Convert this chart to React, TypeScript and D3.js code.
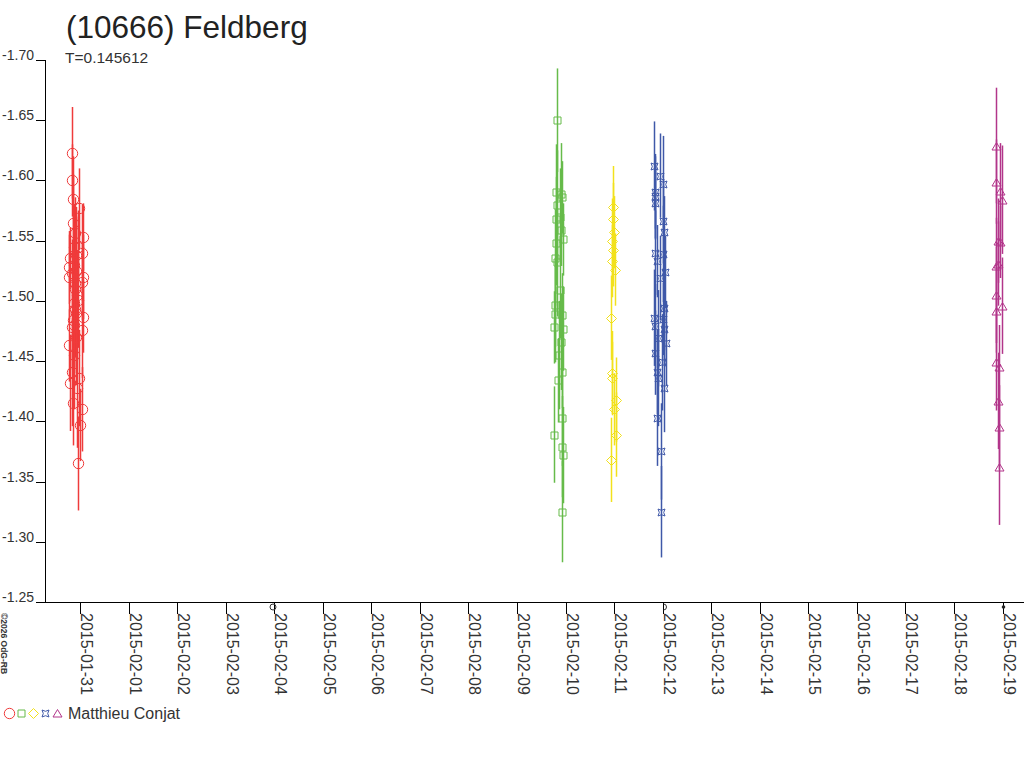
import React, { useEffect, useRef } from 'react';
import * as d3 from 'd3';

// [MJD, reduced magnitude, error]
type Obs = [number, number, number];

const TITLE = '(10666) Feldberg';
const PERIOD_LABEL = 'T=0.145612';
const OBSERVER = 'Matthieu Conjat';
const CREDIT = '©2026 OdG-RB';

const session1: Obs[] = [
  [57052.841, -1.623, 0.038], [57052.829, -1.600, 0.030], [57052.862, -1.585, 0.035],
  [57052.986, -1.577, 0.033], [57052.897, -1.556, 0.030], [57053.056, -1.553, 0.028],
  [57052.794, -1.536, 0.025], [57052.780, -1.528, 0.030], [57052.829, -1.523, 0.028],
  [57053.068, -1.520, 0.035], [57053.035, -1.516, 0.032], [57052.965, -1.501, 0.040],
  [57053.068, -1.487, 0.030], [57052.862, -1.484, 0.045], [57052.829, -1.478, 0.035],
  [57053.035, -1.476, 0.040], [57052.780, -1.463, 0.030], [57052.829, -1.441, 0.045],
  [57052.794, -1.432, 0.040], [57052.986, -1.436, 0.040], [57052.932, -1.428, 0.050],
  [57052.862, -1.415, 0.035], [57053.035, -1.410, 0.035], [57053.000, -1.397, 0.030],
  [57052.953, -1.365, 0.039], [57052.880, -1.545, 0.035], [57052.910, -1.538, 0.040],
  [57052.870, -1.530, 0.030], [57052.920, -1.525, 0.045], [57052.900, -1.515, 0.050],
  [57052.890, -1.510, 0.040], [57052.930, -1.505, 0.035], [57052.875, -1.498, 0.045],
  [57052.905, -1.493, 0.040], [57052.925, -1.490, 0.050], [57052.885, -1.480, 0.035],
  [57052.915, -1.470, 0.040], [57052.855, -1.565, 0.040], [57052.950, -1.545, 0.030],
  [57052.870, -1.455, 0.045], [57052.775, -1.520, 0.035], [57053.050, -1.540, 0.040],
];

const session2: Obs[] = [
  [57062.819, -1.650, 0.043], [57062.804, -1.590, 0.040], [57062.901, -1.589, 0.042],
  [57062.922, -1.586, 0.030], [57062.819, -1.580, 0.045], [57062.804, -1.568, 0.035],
  [57062.887, -1.570, 0.040], [57062.901, -1.559, 0.030], [57062.804, -1.548, 0.035],
  [57062.955, -1.551, 0.030], [57062.784, -1.536, 0.040], [57062.819, -1.532, 0.045],
  [57062.887, -1.509, 0.040], [57062.784, -1.497, 0.035], [57062.784, -1.489, 0.040],
  [57062.922, -1.488, 0.035], [57062.763, -1.478, 0.030], [57062.955, -1.477, 0.035],
  [57062.901, -1.466, 0.040], [57062.872, -1.455, 0.045], [57062.922, -1.441, 0.030],
  [57062.852, -1.434, 0.035], [57062.928, -1.403, 0.040], [57062.763, -1.389, 0.040],
  [57062.922, -1.379, 0.042], [57062.942, -1.372, 0.040], [57062.922, -1.325, 0.042],
];

const session3: Obs[] = [
  [57063.985, -1.578, 0.034], [57063.985, -1.568, 0.030], [57064.005, -1.557, 0.030],
  [57063.964, -1.550, 0.035], [57063.985, -1.542, 0.030], [57063.964, -1.533, 0.030],
  [57064.020, -1.526, 0.030], [57063.937, -1.486, 0.035], [57063.951, -1.440, 0.035],
  [57063.951, -1.436, 0.030], [57064.034, -1.418, 0.035], [57064.005, -1.410, 0.030],
  [57064.034, -1.389, 0.035], [57063.937, -1.368, 0.035],
];

const session4: Obs[] = [
  [57064.823, -1.612, 0.037], [57064.946, -1.604, 0.035], [57065.014, -1.597, 0.040],
  [57064.843, -1.590, 0.030], [57064.843, -1.587, 0.035], [57064.843, -1.581, 0.030],
  [57065.002, -1.566, 0.035], [57065.029, -1.557, 0.030], [57064.843, -1.540, 0.035],
  [57064.878, -1.533, 0.030], [57065.014, -1.539, 0.040], [57065.049, -1.524, 0.030],
  [57064.946, -1.519, 0.035], [57065.029, -1.494, 0.035], [57064.823, -1.486, 0.040],
  [57065.014, -1.485, 0.030], [57064.843, -1.479, 0.035], [57065.029, -1.477, 0.030],
  [57064.911, -1.469, 0.040], [57065.070, -1.465, 0.035], [57064.843, -1.457, 0.035],
  [57064.981, -1.449, 0.040], [57064.878, -1.441, 0.035], [57064.911, -1.436, 0.040],
  [57065.029, -1.428, 0.037], [57064.891, -1.403, 0.040], [57064.961, -1.375, 0.040],
  [57064.961, -1.325, 0.038],
];

const session5: Obs[] = [
  [57071.871, -1.629, 0.048], [57071.857, -1.599, 0.035], [57071.943, -1.591, 0.040],
  [57071.981, -1.584, 0.045], [57071.908, -1.550, 0.035], [57071.958, -1.549, 0.030],
  [57071.857, -1.529, 0.040], [57071.908, -1.531, 0.035], [57071.857, -1.505, 0.040],
  [57071.981, -1.496, 0.040], [57071.871, -1.492, 0.035], [57071.857, -1.449, 0.040],
  [57071.929, -1.445, 0.035], [57071.908, -1.417, 0.040], [57071.923, -1.395, 0.035],
  [57071.929, -1.362, 0.048],
];

const yTicks = [-1.70, -1.65, -1.60, -1.55, -1.50, -1.45, -1.40, -1.35, -1.30, -1.25];

const moonPhases = [
  { date: '2015-02-04', phase: 'full' },
  { date: '2015-02-12', phase: 'quarter' },
  { date: '2015-02-19', phase: 'new' },
];

const mjdToDate = (mjd: number) => new Date((mjd - 40587) * 86400000);

type Sym = 'circle' | 'square' | 'diamond' | 'bowtie' | 'triangle';

function symbolPath(kind: Sym): string {
  const p = d3.path();
  if (kind === 'circle') {
    p.moveTo(5.2, 0);
    p.arc(0, 0, 5.2, 0, Math.PI * 2);
  } else if (kind === 'square') {
    p.rect(-3.5, -3.5, 7, 7);
  } else if (kind === 'diamond') {
    p.moveTo(0, -5); p.lineTo(5, 0); p.lineTo(0, 5); p.lineTo(-5, 0); p.closePath();
  } else if (kind === 'bowtie') {
    p.moveTo(-3.5, -3.5); p.lineTo(0, -2.2); p.lineTo(3.5, -3.5); p.lineTo(2.2, 0);
    p.lineTo(3.5, 3.5); p.lineTo(0, 2.2); p.lineTo(-3.5, 3.5); p.lineTo(-2.2, 0); p.closePath();
  } else {
    p.moveTo(0, -4); p.lineTo(4.5, 3.5); p.lineTo(-4.5, 3.5); p.closePath();
  }
  return p.toString();
}

const sessions: { obs: Obs[]; color: string; symbol: Sym }[] = [
  { obs: session1, color: '#ef3b3b', symbol: 'circle' },
  { obs: session2, color: '#66bb4a', symbol: 'square' },
  { obs: session3, color: '#f2e11c', symbol: 'diamond' },
  { obs: session4, color: '#3f58a8', symbol: 'bowtie' },
  { obs: session5, color: '#b2358a', symbol: 'triangle' },
];

const App: React.FC = () => {
  const svgRef = useRef<SVGSVGElement>(null);

  useEffect(() => {
    if (!svgRef.current) return;
    const svg = d3.select(svgRef.current);
    svg.selectAll('*').remove();

    const font = '"Liberation Sans", Arial, sans-serif';
    const axisY = 602;
    const axisX = 45;

    const x = d3.scaleUtc()
      .domain([new Date(Date.UTC(2015, 0, 31)), new Date(Date.UTC(2015, 1, 19))])
      .range([80, 1002.5]);
    const y = d3.scaleLinear().domain([-1.70, -1.25]).range([60, axisY]);

    svg.append('rect').attr('width', 1024).attr('height', 768).attr('fill', '#fff');

    // title
    svg.append('text').attr('x', 66).attr('y', 38).attr('font-size', 31.5)
      .attr('font-family', font).attr('fill', '#222').text(TITLE);
    svg.append('text').attr('x', 65).attr('y', 63).attr('font-size', 15.5)
      .attr('font-family', font).attr('fill', '#333').text(PERIOD_LABEL);

    // y axis
    svg.append('line').attr('x1', axisX + 0.5).attr('x2', axisX + 0.5)
      .attr('y1', y(-1.70)).attr('y2', axisY).attr('stroke', '#000');
    const yg = svg.append('g');
    yTicks.forEach(v => {
      const yy = Math.round(y(v)) + 0.5;
      yg.append('line').attr('x1', 36).attr('x2', axisX).attr('y1', yy).attr('y2', yy).attr('stroke', '#000');
      yg.append('text').attr('x', 34).attr('y', yy - 1).attr('text-anchor', 'end')
        .attr('font-size', 14).attr('font-family', font).attr('fill', '#333').text(v.toFixed(2));
    });

    // x axis
    svg.append('line').attr('x1', 36).attr('x2', 1024).attr('y1', axisY + 0.5).attr('y2', axisY + 0.5)
      .attr('stroke', '#000');
    const days = d3.utcDay.range(x.domain()[0], d3.utcDay.offset(x.domain()[1], 1));
    const fmt = d3.utcFormat('%Y-%m-%d');
    const xg = svg.append('g');
    days.forEach(d => {
      const xx = Math.round(x(d)) + 0.5;
      xg.append('line').attr('x1', xx).attr('x2', xx).attr('y1', axisY).attr('y2', axisY + 12).attr('stroke', '#000');
      xg.append('text').attr('transform', `translate(${xx},${axisY + 11}) rotate(90)`)
        .attr('font-size', 16).attr('font-family', font).attr('fill', '#333').text(fmt(d));
    });

    // moon phases
    moonPhases.forEach(m => {
      const xx = Math.round(x(new Date(m.date + 'T00:00:00Z'))) + 0.5;
      if (m.phase === 'full') {
        svg.append('circle').attr('cx', xx - 1.5).attr('cy', axisY + 5).attr('r', 3)
          .attr('fill', 'none').attr('stroke', '#333');
      } else if (m.phase === 'quarter') {
        svg.append('path').attr('d', `M${xx},${axisY + 2} A3,3 0 0 1 ${xx},${axisY + 8}`)
          .attr('fill', 'none').attr('stroke', '#333');
      } else {
        svg.append('circle').attr('cx', xx).attr('cy', axisY + 5).attr('r', 1.8).attr('fill', '#222');
      }
    });

    // credit
    svg.append('text').attr('transform', 'translate(1,613) rotate(90)')
      .attr('font-size', 8.5).attr('font-weight', 'bold').attr('font-family', font)
      .attr('fill', '#333').text(CREDIT);

    // observations
    sessions.forEach(s => {
      const g = svg.append('g');
      g.selectAll('line').data(s.obs).enter().append('line')
        .attr('x1', d => Math.round(x(mjdToDate(d[0]))) + 0.5)
        .attr('x2', d => Math.round(x(mjdToDate(d[0]))) + 0.5)
        .attr('y1', d => y(d[1] - d[2]))
        .attr('y2', d => y(d[1] + d[2]))
        .attr('stroke', s.color).attr('stroke-width', 1.5);
      g.selectAll('path').data(s.obs).enter().append('path')
        .attr('d', symbolPath(s.symbol))
        .attr('transform', d => `translate(${Math.round(x(mjdToDate(d[0]))) + 0.5},${Math.round(y(d[1])) + 0.5})`)
        .attr('fill', 'none').attr('stroke', s.color).attr('stroke-width', 1);
    });

    // legend
    const lx = [9, 21, 33, 45, 57];
    sessions.forEach((s, i) => {
      svg.append('path').attr('d', symbolPath(s.symbol))
        .attr('transform', `translate(${lx[i] + 0.5},713.5)`)
        .attr('fill', 'none').attr('stroke', s.color);
    });
    svg.append('text').attr('x', 68).attr('y', 719).attr('font-size', 16)
      .attr('font-family', font).attr('fill', '#333').text(OBSERVER);
  }, []);

  return (
    <svg ref={svgRef} width={1024} height={768}
      style={{ position: 'absolute', left: 0, top: 0, display: 'block' }} />
  );
};

export default App;
